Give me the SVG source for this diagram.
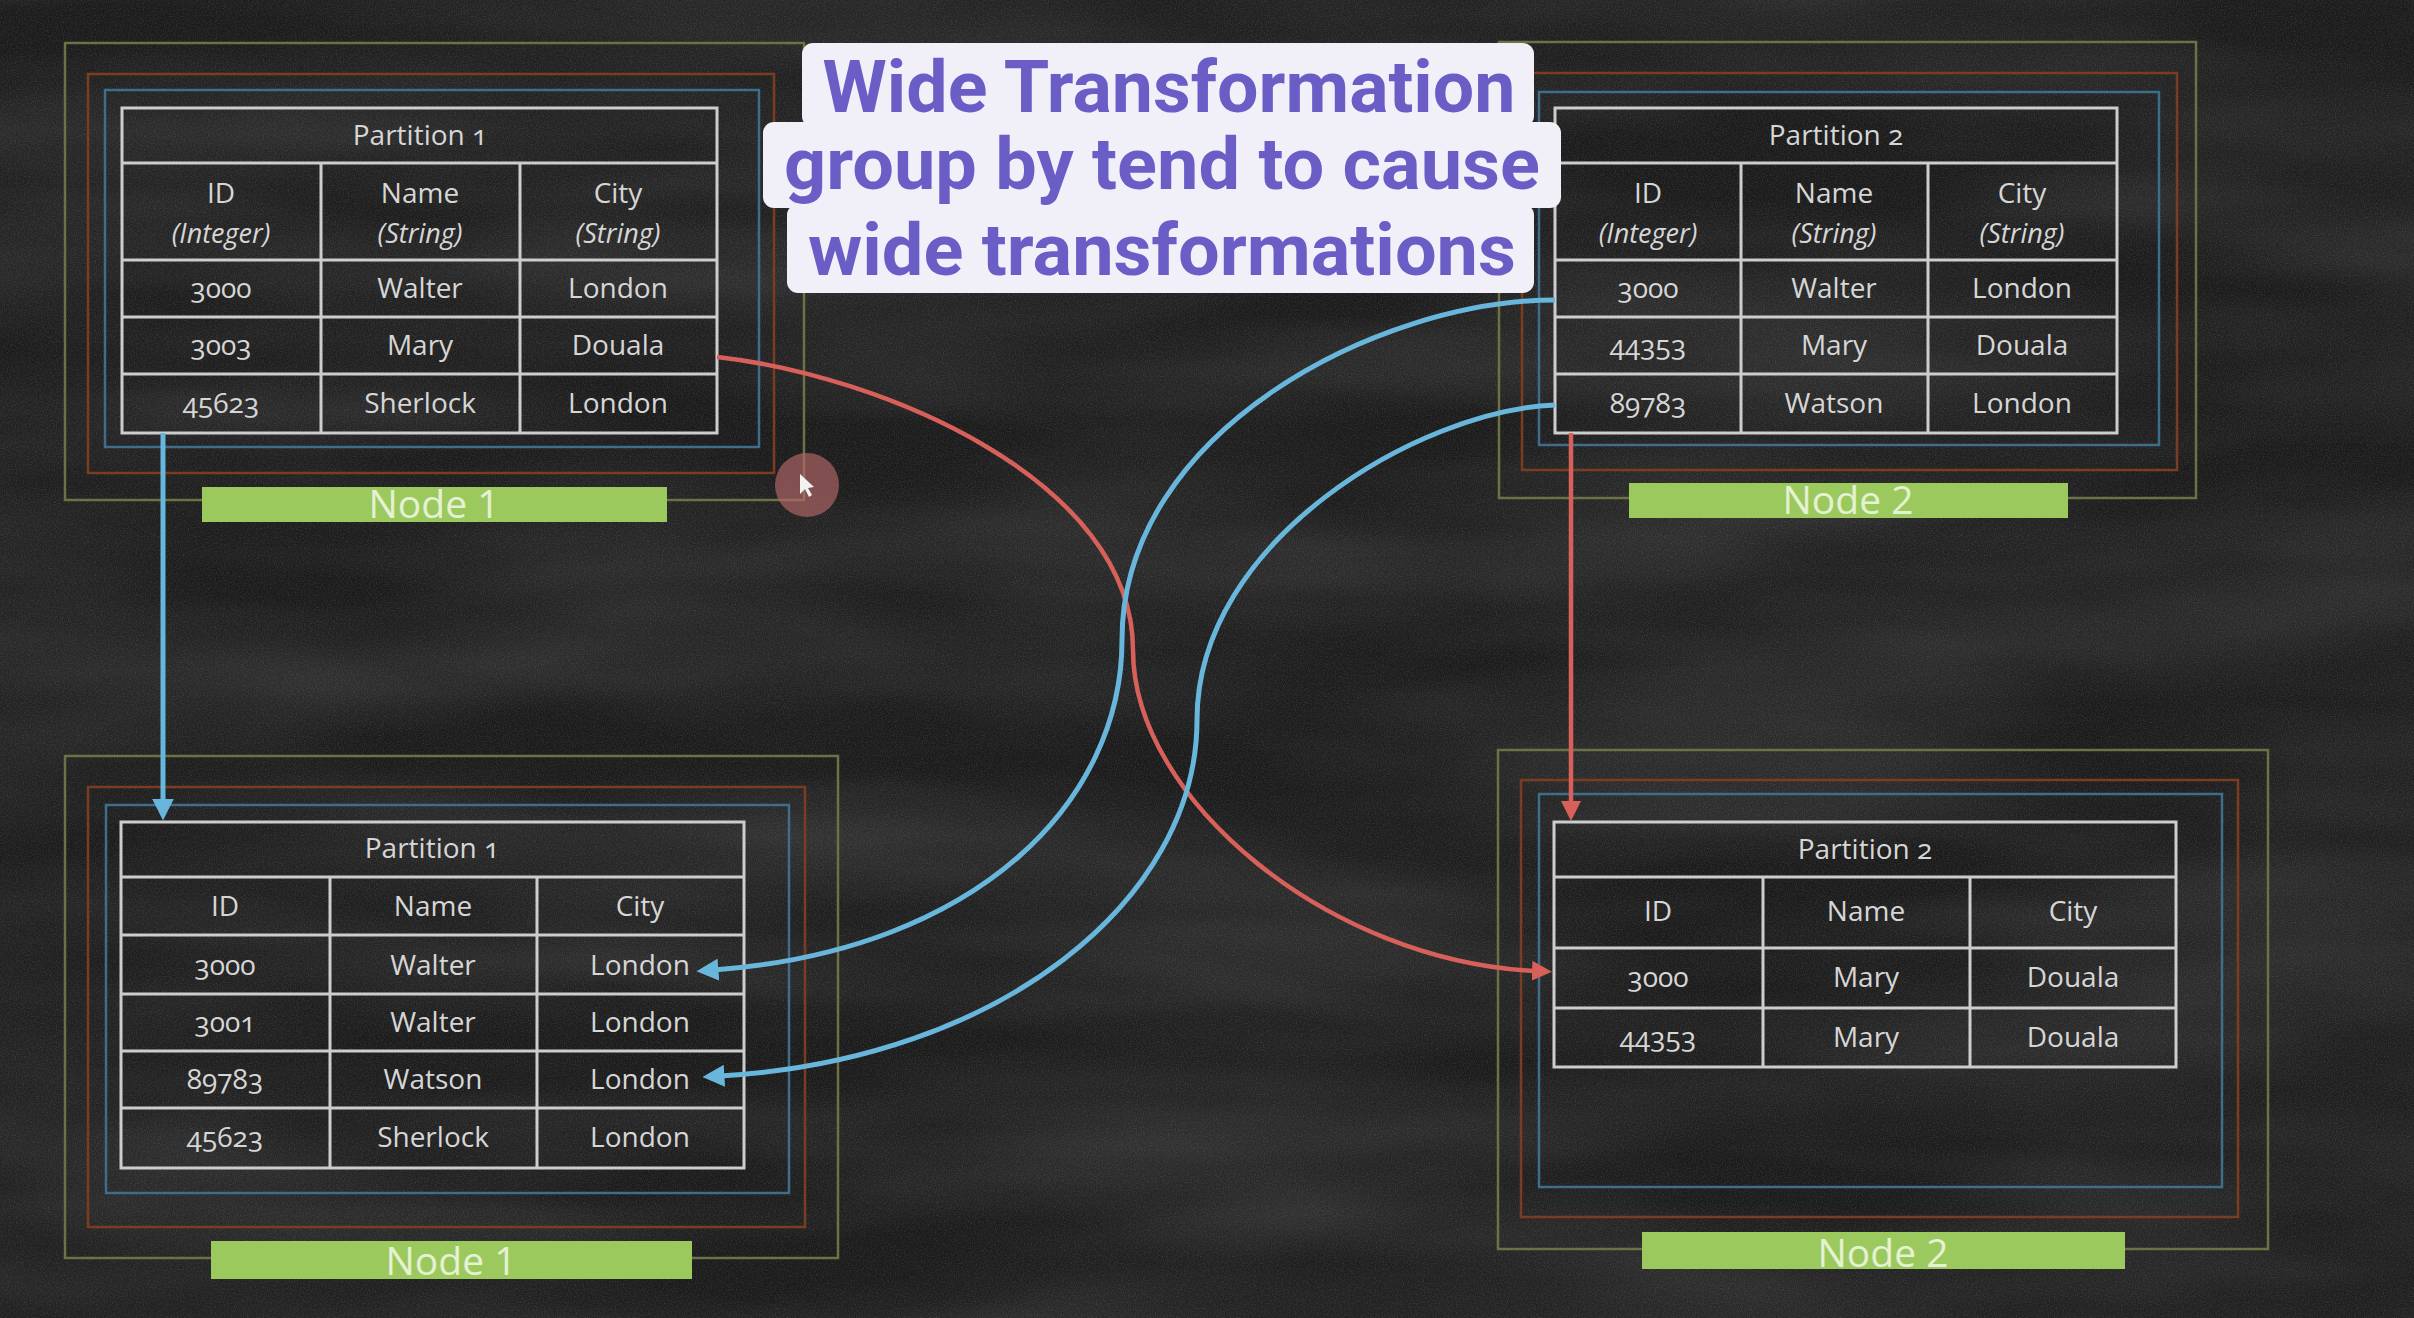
<svg xmlns="http://www.w3.org/2000/svg" width="2414" height="1318" viewBox="0 0 2414 1318">
<defs>
<style>
.t{font-family:"Open Sans","Liberation Sans",sans-serif;font-size:28px;fill:#d6d6d6;text-anchor:middle;font-variant-numeric:oldstyle-nums}
.ti{font-style:italic;font-size:27px}
.grid{fill:none;stroke:#cdcdcd;stroke-width:3}
.ol{fill:none;stroke:#6c7244;stroke-width:2.5}
.or{fill:none;stroke:#7a3d20;stroke-width:2.5}
.bl{fill:none;stroke:#3e6e8a;stroke-width:2.5}
.bar{fill:#9cc95e}
.nl{font-family:"Open Sans","Liberation Sans",sans-serif;font-size:39px;fill:#e4f1d2;text-anchor:middle}
.cb{fill:none;stroke:#69b6dc;stroke-width:5}
.cr{fill:none;stroke:#d8605a;stroke-width:4.5}
.tt{font-family:Roboto,"Liberation Sans",sans-serif;font-weight:700;font-size:72px;fill:#6b5dc6;text-anchor:middle}
.tb{fill:#f1f0f9}
</style>
<marker id="ab" markerUnits="userSpaceOnUse" viewBox="0 0 20 20" markerWidth="22" markerHeight="22" refX="4" refY="10" orient="auto">
<path d="M0,0 L20,10 L0,20 z" fill="#69b6dc"/>
</marker>
<marker id="ar" markerUnits="userSpaceOnUse" viewBox="0 0 20 20" markerWidth="20" markerHeight="20" refX="4" refY="10" orient="auto">
<path d="M0,0 L20,10 L0,20 z" fill="#d8605a"/>
</marker>
<filter id="chalk" x="0" y="0" width="100%" height="100%">
<feTurbulence type="fractalNoise" baseFrequency="0.85" numOctaves="2" seed="4"/>
<feColorMatrix type="matrix" values="0 0 0 0 0.85 0 0 0 0 0.85 0 0 0 0 0.85 0.5 0 0 0 -0.2"/>
</filter>
<filter id="smudge" x="0" y="0" width="100%" height="100%">
<feTurbulence type="fractalNoise" baseFrequency="0.002 0.01" numOctaves="3" seed="9"/>
<feColorMatrix type="matrix" values="0 0 0 0 0.8 0 0 0 0 0.8 0 0 0 0 0.8 0.18 0 0 0 -0.05"/>
</filter>
</defs>
<rect width="2414" height="1318" fill="#1b1b1b"/>
<rect width="2414" height="1318" filter="url(#smudge)"/>
<rect width="2414" height="1318" filter="url(#chalk)" opacity="0.5"/>

<g id="node1-top">
<rect class="ol" x="65" y="43" width="739" height="457"/>
<rect class="or" x="88" y="74" width="686" height="399"/>
<rect class="bl" x="105" y="90" width="654" height="357"/>
<rect class="grid" x="122" y="108" width="595" height="325"/>
<path class="grid" d="M122,163H717M122,260H717M122,317H717M122,374H717M321,163V433M520,163V433"/>
<text class="t" x="420" y="145">Partition 1</text>
<text class="t" x="221" y="203">ID</text><text class="t ti" x="221" y="243">(Integer)</text>
<text class="t" x="420" y="203">Name</text><text class="t ti" x="420" y="243">(String)</text>
<text class="t" x="618" y="203">City</text><text class="t ti" x="618" y="243">(String)</text>
<text class="t" x="221" y="298">3000</text><text class="t" x="420" y="298">Walter</text><text class="t" x="618" y="298">London</text>
<text class="t" x="221" y="355">3003</text><text class="t" x="420" y="355">Mary</text><text class="t" x="618" y="355">Douala</text>
<text class="t" x="221" y="413">45623</text><text class="t" x="420" y="413">Sherlock</text><text class="t" x="618" y="413">London</text>
<rect class="bar" x="202" y="487" width="465" height="35"/>
<text class="nl" x="434" y="518">Node 1</text>
</g>

<g id="node2-top">
<rect class="ol" x="1499" y="42" width="697" height="456"/>
<rect class="or" x="1522" y="73" width="655" height="397"/>
<rect class="bl" x="1539" y="92" width="620" height="353"/>
<rect class="grid" x="1555" y="108" width="562" height="325"/>
<path class="grid" d="M1555,163H2117M1555,260H2117M1555,317H2117M1555,374H2117M1741,163V433M1928,163V433"/>
<text class="t" x="1836" y="145">Partition 2</text>
<text class="t" x="1648" y="203">ID</text><text class="t ti" x="1648" y="243">(Integer)</text>
<text class="t" x="1834" y="203">Name</text><text class="t ti" x="1834" y="243">(String)</text>
<text class="t" x="2022" y="203">City</text><text class="t ti" x="2022" y="243">(String)</text>
<text class="t" x="1648" y="298">3000</text><text class="t" x="1834" y="298">Walter</text><text class="t" x="2022" y="298">London</text>
<text class="t" x="1648" y="355">44353</text><text class="t" x="1834" y="355">Mary</text><text class="t" x="2022" y="355">Douala</text>
<text class="t" x="1648" y="413">89783</text><text class="t" x="1834" y="413">Watson</text><text class="t" x="2022" y="413">London</text>
<rect class="bar" x="1629" y="483" width="439" height="35"/>
<text class="nl" x="1848" y="514">Node 2</text>
</g>

<g id="node1-bottom">
<rect class="ol" x="65" y="756" width="773" height="502"/>
<rect class="or" x="88" y="787" width="717" height="440"/>
<rect class="bl" x="106" y="805" width="683" height="388"/>
<rect class="grid" x="121" y="822" width="623" height="346"/>
<path class="grid" d="M121,877H744M121,935H744M121,994H744M121,1051H744M121,1108H744M330,877V1168M537,877V1168"/>
<text class="t" x="432" y="858">Partition 1</text>
<text class="t" x="225" y="916">ID</text><text class="t" x="433" y="916">Name</text><text class="t" x="640" y="916">City</text>
<text class="t" x="225" y="975">3000</text><text class="t" x="433" y="975">Walter</text><text class="t" x="640" y="975">London</text>
<text class="t" x="225" y="1032">3001</text><text class="t" x="433" y="1032">Walter</text><text class="t" x="640" y="1032">London</text>
<text class="t" x="225" y="1089">89783</text><text class="t" x="433" y="1089">Watson</text><text class="t" x="640" y="1089">London</text>
<text class="t" x="225" y="1147">45623</text><text class="t" x="433" y="1147">Sherlock</text><text class="t" x="640" y="1147">London</text>
<rect class="bar" x="211" y="1241" width="481" height="38"/>
<text class="nl" x="451" y="1275">Node 1</text>
</g>

<g id="node2-bottom">
<rect class="ol" x="1498" y="750" width="770" height="499"/>
<rect class="or" x="1521" y="780" width="717" height="437"/>
<rect class="bl" x="1539" y="794" width="683" height="393"/>
<rect class="grid" x="1554" y="822" width="622" height="245"/>
<path class="grid" d="M1554,877H2176M1554,948H2176M1554,1008H2176M1763,877V1067M1970,877V1067"/>
<text class="t" x="1865" y="859">Partition 2</text>
<text class="t" x="1658" y="921">ID</text><text class="t" x="1866" y="921">Name</text><text class="t" x="2073" y="921">City</text>
<text class="t" x="1658" y="987">3000</text><text class="t" x="1866" y="987">Mary</text><text class="t" x="2073" y="987">Douala</text>
<text class="t" x="1658" y="1047">44353</text><text class="t" x="1866" y="1047">Mary</text><text class="t" x="2073" y="1047">Douala</text>
<rect class="bar" x="1642" y="1232" width="483" height="37"/>
<text class="nl" x="1883" y="1267">Node 2</text>
</g>

<g id="connectors">
<path class="cb" d="M163,433V803" marker-end="url(#ab)"/>
<path class="cr" d="M1571,433V805" marker-end="url(#ar)"/>
<path class="cr" d="M717,357 C880,375 1133,480 1133,650 C1133,800 1330,962 1536,971" marker-end="url(#ar)"/>
<path class="cb" d="M1555,300 C1380,300 1122,430 1122,640 C1122,800 980,950 714,970" marker-end="url(#ab)"/>
<path class="cb" d="M1555,405 C1420,410 1197,540 1197,720 C1197,900 1000,1060 720,1076" marker-end="url(#ab)"/>
</g>

<g id="cursor">
<circle cx="807" cy="485" r="32" fill="#b56868" opacity="0.65"/>
<path d="M800,474 L800,494 L805,489 L809,497 L812,495 L808,488 L814,487 z" fill="#f2f2f2"/>
</g>

<g id="title">
<rect class="tb" x="802" y="43" width="732" height="84" rx="11"/>
<rect class="tb" x="763" y="122" width="798" height="86" rx="11"/>
<rect class="tb" x="787" y="204" width="747" height="89" rx="11"/>
<text class="tt" x="1169" y="112" textLength="693" lengthAdjust="spacingAndGlyphs">Wide Transformation</text>
<text class="tt" x="1162" y="189" textLength="756" lengthAdjust="spacingAndGlyphs">group by tend to cause</text>
<text class="tt" x="1162" y="275" textLength="708" lengthAdjust="spacingAndGlyphs">wide transformations</text>
</g>
</svg>
